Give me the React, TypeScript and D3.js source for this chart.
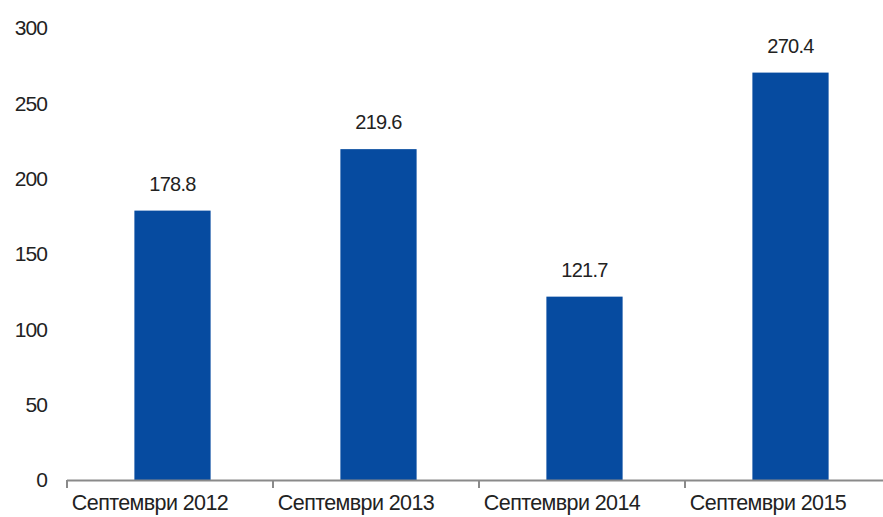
import React from "react";
import * as d3 from "d3";

const categories = ["Септември 2012", "Септември 2013", "Септември 2014", "Септември 2015"];
const values = [178.8, 219.6, 121.7, 270.4];
const valueLabels = ["178.8", "219.6", "121.7", "270.4"];
const yTicks = [0, 50, 100, 150, 200, 250, 300];

export default function App() {
  const W = 883, H = 517;
  const x = d3.scaleBand<string>().domain(categories).range([69.5, 893.5]).paddingInner(0.63).paddingOuter(0.315);
  const xb = d3.scaleBand<string>().domain(categories).range([67, 891]);
  const y = d3.scaleLinear().domain([0, 300]).range([480, 28]);
  const font = "'Liberation Sans', Arial, sans-serif";
  return (
    <svg width={W} height={H} style={{ position: "absolute", left: 0, top: 0, background: "#fff" }}>
      {yTicks.map((t) => (
        <text key={t} x={47} y={y(t)} dy="0.35em" textAnchor="end" fontFamily={font} fontSize={21} fill="#222" letterSpacing={-0.9}>
          {t}
        </text>
      ))}
      {categories.map((c, i) => (
        <rect key={c} x={x(c)} y={y(values[i])} width={x.bandwidth()} height={y(0) - y(values[i])} fill="#064ba0" />
      ))}
      <line x1={67} x2={891} y1={480.5} y2={480.5} stroke="#8a8a8a" strokeWidth={2} />
      {categories.map((c) => (
        <line key={c} x1={xb(c)!} x2={xb(c)!} y1={480} y2={488} stroke="#8a8a8a" strokeWidth={2} />
      ))}
      {categories.map((c, i) => (
        <text key={c} x={x(c)! + x.bandwidth() / 2} y={y(values[i]) - 20} textAnchor="middle" fontFamily={font} fontSize={20} fill="#222" letterSpacing={-0.7}>
          {valueLabels[i]}
        </text>
      ))}
      {categories.map((c) => (
        <text key={c} x={xb(c)! + xb.bandwidth() / 2 - 20} y={510} textAnchor="middle" fontFamily={font} fontSize={21.5} fill="#222" letterSpacing={-0.6}>
          {c}
        </text>
      ))}
    </svg>
  );
}
